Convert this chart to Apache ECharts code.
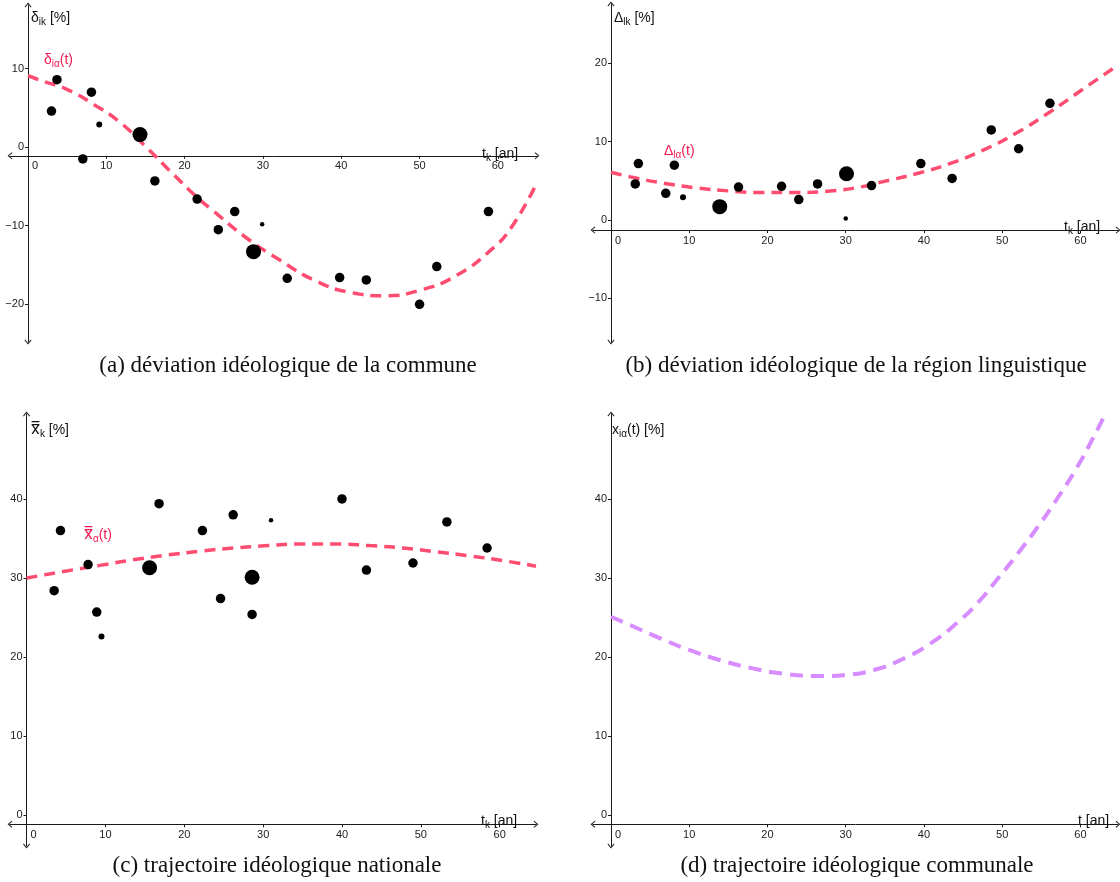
<!DOCTYPE html>
<html>
<head>
<meta charset="utf-8">
<script src="https://cdn.jsdelivr.net/npm/echarts@6/dist/echarts.min.js"></script>
<style>
  html, body { margin: 0; padding: 0; background: #fff; }
  #chart { width: 1120px; height: 882px; }
</style>
</head>
<body>
<div id="chart"></div>
<script>
// ---------- data ----------
// weight class of each observation: 0 tiny, 1 small, 2 normal, 3 large

// (a) deviation of the commune
const tCommune      = [3.0, 3.7, 7.0, 8.1, 9.1, 14.3, 16.2, 21.6, 24.3, 26.4, 28.8, 29.9, 33.1, 39.8, 43.2, 50.0, 52.2, 58.8];
const deltaCommune  = [4.6, 8.6, -1.5, 7.0, 2.9, 1.6, -4.3, -6.6, -10.5, -8.2, -13.3, -9.8, -16.7, -16.6, -16.9, -20.0, -15.2, -8.2];
const weightCommune = [2, 2, 2, 2, 1, 3, 2, 2, 2, 2, 3, 0, 2, 2, 2, 2, 2, 2];
const tDeltaModel   = [0, 1.9, 4.9, 8.3, 11.7, 15.1, 18.5, 21.5, 23.3, 27.7, 32.2, 36.7, 41.2, 45.7, 50.1, 54.6, 59.1, 61.8, 65.0];
const deltaModel    = [9.1, 8.4, 7.4, 5.5, 3.2, 0.0, -3.4, -6.3, -7.8, -11.4, -14.4, -17.0, -18.5, -18.9, -18.2, -16.4, -13.1, -10.1, -4.5];

// (b) deviation of the linguistic region
const tRegion       = [3.1, 3.5, 7.0, 8.1, 9.2, 13.9, 16.3, 21.8, 24.0, 26.4, 30.1, 30.0, 33.3, 39.6, 43.6, 48.6, 52.1, 56.1];
const deltaRegion   = [4.6, 7.2, 3.4, 7.0, 2.9, 1.7, 4.2, 4.3, 2.6, 4.6, 5.9, 0.2, 4.4, 7.2, 5.3, 11.5, 9.1, 14.9];
const weightRegion  = [2, 2, 2, 2, 1, 3, 2, 2, 2, 2, 3, 0, 2, 2, 2, 2, 2, 2];
const tRegionModel  = [0, 2.5, 6.7, 10.9, 15.2, 19.5, 23.7, 28.0, 31.8, 34.8, 39.0, 43.3, 47.5, 51.8, 56.1, 60.3, 64.8];
const regionModel   = [6.1, 5.5, 4.7, 4.1, 3.7, 3.5, 3.5, 3.7, 4.2, 4.9, 5.9, 7.2, 8.9, 11.1, 13.8, 16.7, 19.8];

// (c) national trajectory
const tNation       = [3.5, 4.3, 7.8, 8.9, 9.5, 15.6, 16.8, 22.3, 24.6, 26.2, 28.6, 28.6, 31.0, 40.0, 43.1, 49.0, 53.3, 58.4];
const xNation       = [28.4, 36.0, 31.7, 25.7, 22.6, 31.3, 39.4, 36.0, 27.4, 38.0, 30.1, 25.4, 37.3, 40.0, 31.0, 31.9, 37.1, 33.8];
const weightNation  = [2, 2, 2, 2, 1, 3, 2, 2, 2, 2, 3, 2, 0, 2, 2, 2, 2, 2];
const tNationModel  = [0, 5.1, 9.3, 13.5, 17.8, 22.0, 26.2, 30.6, 35.1, 39.3, 43.5, 47.7, 52.0, 56.2, 60.4, 64.6];
const nationModel   = [30.0, 30.9, 31.6, 32.3, 32.9, 33.4, 33.8, 34.1, 34.3, 34.3, 34.1, 33.8, 33.3, 32.8, 32.2, 31.5];

// (d) communal trajectory
const tCommuneTraj  = [0, 3.0, 6.0, 10.0, 14.0, 18.0, 22.0, 26.7, 30.0, 33.7, 37.6, 41.1, 44.2, 47.0, 49.5, 52.0, 54.5, 57.0, 59.5, 61.5, 63.3];
const xCommuneTraj  = [25.1, 23.8, 22.5, 20.9, 19.6, 18.6, 17.9, 17.6, 17.75, 18.4, 19.9, 21.9, 24.3, 27.0, 30.0, 33.1, 36.4, 40.0, 43.9, 47.5, 51.0];

// tick labels
const xTicks  = [0, 10, 20, 30, 40, 50, 60];
const yTicksA = [-20, -10, 0, 10];
const yTicksB = [-10, 0, 10, 20];
const yTicksC = [0, 10, 20, 30, 40];
const yTicksD = [0, 10, 20, 30, 40];

// ---------- styling ----------
const SIZE_BY_WEIGHT = [4.5, 6, 9.5, 15];
const AXIS_COLOR = '#1a1a1a';
const MODEL_RED = '#ff4d72';
const LABEL_RED = '#f01a50';
const MODEL_LILAC = '#d78cff';
const SANS = '"Liberation Sans", Arimo, "DejaVu Sans", sans-serif';
const SERIF = '"Liberation Serif", "DejaVu Serif", serif';
const CHEVRON = 'path://M0,6 L5,0 L10,6 L9,6.9 L5,2.1 L1,6.9 Z';

// each view: pixel box, visible ranges, and the value where the time axis crosses
const panels = [
  { grid: { left: 10,  top: 5,   width: 527, height: 337 }, x: [-2.3, 65.0], y: [-24.8, 18.1], axisAt: -1.1,  yTicks: yTicksA },
  { grid: { left: 593, top: 4,   width: 525, height: 338 }, x: [-2.3, 64.8], y: [-15.6, 27.6], axisAt: -1.3,  yTicks: yTicksB },
  { grid: { left: 10,  top: 414, width: 526, height: 432 }, x: [-2.1, 64.6], y: [-3.9, 50.75], axisAt: -1.15, yTicks: yTicksC },
  { grid: { left: 593, top: 414, width: 525, height: 432 }, x: [-2.3, 64.8], y: [-3.9, 50.75], axisAt: -1.15, yTicks: yTicksD }
];

const zip = (a, b, c) => a.map((v, i) => c ? [v, b[i], c[i]] : [v, b[i]]);
const signed = v => String(v).replace('-', '\u2212');

const grids = [], xAxes = [], yAxes = [];
panels.forEach((p, i) => {
  const g = p.grid;
  grids.push(Object.assign({ containLabel: false, outerBoundsMode: 'none' }, g));
  // shift the axes from the grid edges to the crossing point
  const xOffset = -((p.axisAt - p.y[0]) / (p.y[1] - p.y[0])) * g.height;
  const yOffset = -((0 - p.x[0]) / (p.x[1] - p.x[0])) * g.width;
  xAxes.push({
    type: 'value', gridIndex: i, min: p.x[0], max: p.x[1],
    position: 'bottom', offset: xOffset,
    splitLine: { show: false },
    axisLine: {
      onZero: false,
      lineStyle: { color: AXIS_COLOR, width: 1 },
      symbol: [CHEVRON, CHEVRON], symbolSize: [7, 5]
    },
    axisTick: { show: true, length: 3, lineStyle: { color: AXIS_COLOR }, customValues: xTicks },
    axisLabel: {
      customValues: xTicks, margin: 5, color: '#222', fontSize: 11, fontFamily: SANS,
      formatter: v => v === 0 ? '{z|0}' : signed(v),
      rich: { z: { padding: [0, 0, 0, 14], fontSize: 11, fontFamily: SANS, color: '#222' } }
    }
  });
  yAxes.push({
    type: 'value', gridIndex: i, min: p.y[0], max: p.y[1],
    position: 'left', offset: yOffset,
    splitLine: { show: false },
    axisLine: {
      onZero: false,
      lineStyle: { color: AXIS_COLOR, width: 1 },
      symbol: [CHEVRON, CHEVRON], symbolSize: [7, 5]
    },
    axisTick: { show: true, length: 3, lineStyle: { color: AXIS_COLOR }, customValues: p.yTicks },
    axisLabel: { customValues: p.yTicks, margin: 4, color: '#222', fontSize: 11, fontFamily: SANS, formatter: signed }
  });
});

function scatter(i, data) {
  return {
    type: 'scatter', xAxisIndex: i, yAxisIndex: i, data, silent: true, z: 3,
    symbolSize: v => SIZE_BY_WEIGHT[v[2]],
    itemStyle: { color: '#000', opacity: 1 }
  };
}
function model(i, data, color, width, dash) {
  return {
    type: 'line', xAxisIndex: i, yAxisIndex: i, data, silent: true, z: 2,
    smooth: 0.5, symbol: 'none', showSymbol: false, clip: true,
    lineStyle: { color, width, type: dash, cap: 'butt' }
  };
}

const series = [
  model(0, zip(tDeltaModel, deltaModel), MODEL_RED, 3.5, [11, 7]),
  scatter(0, zip(tCommune, deltaCommune, weightCommune)),
  model(1, zip(tRegionModel, regionModel), MODEL_RED, 3.5, [11, 7]),
  scatter(1, zip(tRegion, deltaRegion, weightRegion)),
  model(2, zip(tNationModel, nationModel), MODEL_RED, 3.5, [11, 7]),
  scatter(2, zip(tNation, xNation, weightNation)),
  model(3, zip(tCommuneTraj, xCommuneTraj), MODEL_LILAC, 4, [13, 8])
];

// ---------- texts: axis names, model names, captions ----------
function richLabel(x, y, text, color) {
  const rich = {
    b: { fontSize: 14, fontFamily: SANS, color, lineHeight: 18 },
    s: { fontSize: 10, fontFamily: SANS, color, lineHeight: 18, padding: [9, 0, 0, 0] },
    bb: { fontSize: 15, fontFamily: '"DejaVu Sans", sans-serif', color, lineHeight: 18 }
  };
  return {
    type: 'text', x, y, silent: true, z: 10,
    style: { text, rich, align: 'left', verticalAlign: 'middle', fill: color }
  };
}
function caption(cx, cy, text) {
  return {
    type: 'text', x: cx, y: cy, silent: true,
    style: { text, font: '23px ' + SERIF, fill: '#111', align: 'center', verticalAlign: 'middle' }
  };
}

const XBB = 'x\u033F';
const graphics = [
  // (a)
  richLabel(31, 18, '{b|δ}{s|ik}{b| [%]}', '#111'),
  richLabel(482, 154, '{b|t}{s|k}{b| [an]}', '#111'),
  richLabel(44, 60, '{b|δ}{s|iα}{b|(t)}', LABEL_RED),
  caption(288, 366, '(a) déviation idéologique de la commune'),
  // (b)
  richLabel(614, 18, '{b|Δ}{s|lk}{b| [%]}', '#111'),
  richLabel(1064, 227, '{b|t}{s|k}{b| [an]}', '#111'),
  richLabel(664, 151, '{b|Δ}{s|lα}{b|(t)}', LABEL_RED),
  caption(856, 366, '(b) déviation idéologique de la région linguistique'),
  // (c)
  richLabel(31, 430, '{bb|' + XBB + '}{s|k}{b| [%]}', '#111'),
  richLabel(481, 821, '{b|t}{s|k}{b| [an]}', '#111'),
  richLabel(84, 535, '{bb|' + XBB + '}{s|α}{b|(t)}', LABEL_RED),
  caption(277, 866, '(c) trajectoire idéologique nationale'),
  // (d)
  richLabel(612, 430, '{b|x}{s|iα}{b|(t) [%]}', '#111'),
  richLabel(1078, 821, '{b|t [an]}', '#111'),
  caption(857, 866, '(d) trajectoire idéologique communale')
];

const chart = echarts.init(document.getElementById('chart'), null, { renderer: 'canvas' });
chart.setOption({
  animation: false,
  backgroundColor: '#fff',
  grid: grids,
  xAxis: xAxes,
  yAxis: yAxes,
  series,
  graphic: graphics
});
</script>
</body>
</html>
